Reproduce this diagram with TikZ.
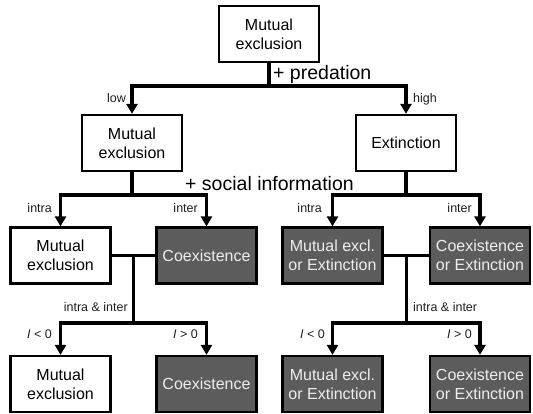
\documentclass[tikz,border=0pt]{standalone}
\usepackage{fontspec}
\setmainfont{Liberation Sans}
\usetikzlibrary{arrows.meta,calc}
\definecolor{boxgray}{RGB}{92,92,92}
\definecolor{boxtext}{RGB}{238,238,238}
\definecolor{labtext}{RGB}{30,30,30}
\begin{document}
\begin{tikzpicture}[x=1pt,y=-1pt,
  outcome/.style={draw=black, line width=2.2pt, fill=white, inner sep=0pt,
    minimum width=100pt, minimum height=56pt, align=center,
    font=\fontsize{16}{19}\selectfont},
  shaded/.style={outcome, fill=boxgray, text=boxtext},
  wire/.style={line width=3.2pt, line join=miter},
  arr/.style={wire, -{Triangle[width=11pt,length=10pt]}},
  lab/.style={inner sep=0pt, text=labtext, font=\fontsize{12.5}{14}\selectfont},
  biglab/.style={inner sep=0pt, font=\fontsize{19.5}{22}\selectfont}]
\useasboundingbox (0,0) rectangle (533,414);

% outcome boxes
\node[outcome] (top) at (269,34) {Mutual\\exclusion};
\node[outcome] (low) at (132,143) {Mutual\\exclusion};
\node[outcome] (high) at (406,143) {Extinction};

\node[outcome] (la) at (60.5,255.5) {Mutual\\exclusion};
\node[shaded]  (lb) at (206.5,255.5) {Coexistence};
\node[shaded]  (ra) at (332.5,255.5) {Mutual excl.\\or Extinction};
\node[shaded]  (rb) at (480,255.5) {Coexistence\\or Extinction};

\node[outcome] (lc) at (60.5,384) {Mutual\\exclusion};
\node[shaded]  (ld) at (206.5,384) {Coexistence};
\node[shaded]  (rc) at (332.5,384) {Mutual excl.\\or Extinction};
\node[shaded]  (rd) at (480,384) {Coexistence\\or Extinction};

% branching points
\coordinate (j1) at (269,86);
\coordinate (j2l) at (132,195);
\coordinate (j2r) at (406,195);
\coordinate (m3l) at ($(la.east)!0.5!(lb.west)$);
\coordinate (m3r) at ($(ra.east)!0.5!(rb.west)$);
\coordinate (j3l) at (m3l |- 0,323);
\coordinate (j3r) at (m3r |- 0,323);

% predation
\draw[wire] (top.south) -- (j1);
\draw[arr] (j1) -| (low.north);
\draw[arr] (j1) -| (high.north);

% social information
\draw[wire] (low.south) -- (j2l);
\draw[arr] (j2l) -| (la.north);
\draw[arr] (j2l) -| (lb.north);
\draw[wire] (high.south) -- (j2r);
\draw[arr] (j2r) -| (ra.north);
\draw[arr] (j2r) -| (rb.north);

% intra & inter
\draw[wire] (la.east) -- (lb.west);
\draw[wire] (m3l) -- (j3l);
\draw[arr] (j3l) -| (lc.north);
\draw[arr] (j3l) -| (ld.north);
\draw[wire] (ra.east) -- (rb.west);
\draw[wire] (m3r) -- (j3r);
\draw[arr] (j3r) -| (rc.north);
\draw[arr] (j3r) -| (rd.north);

% labels
\node[biglab, anchor=base west] (tp) at (273,79.5) {+ predation};
\node[biglab, anchor=base west] (ts) at (185,190.5) {+ social information};

\node[lab, anchor=base east] (tlow) at (126,103) {low};
\node[lab, anchor=base west] (thigh) at (413,103) {high};

\node[lab, anchor=base east] (t1) at (52,213) {intra};
\node[lab, anchor=base east] (t2) at (198,213) {inter};
\node[lab, anchor=base east] (t3) at (322,213) {intra};
\node[lab, anchor=base east] (t4) at (472,213) {inter};

\node[lab, anchor=base east] (t5) at (128,311) {intra \& inter};
\node[lab, anchor=base west] (t6) at (413,311) {intra \& inter};

\node[lab, anchor=base east] (t7) at (52,338) {\textit{I} < 0};
\node[lab, anchor=base east] (t8) at (198,338) {\textit{I} > 0};
\node[lab, anchor=base east] (t9) at (325,338) {\textit{I} < 0};
\node[lab, anchor=base east] (t10) at (472,338) {\textit{I} > 0};
\end{tikzpicture}
\end{document}
